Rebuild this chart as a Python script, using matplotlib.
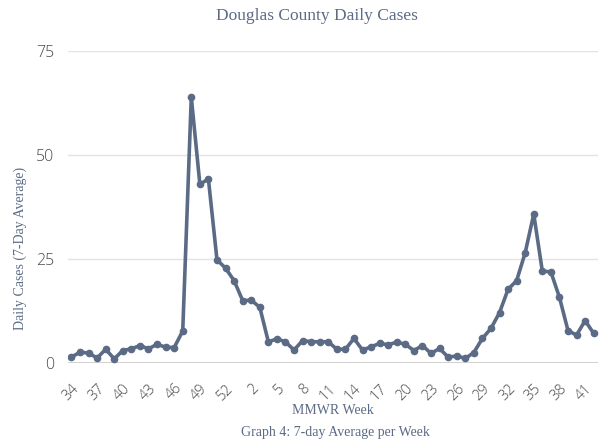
import matplotlib
matplotlib.use("Agg")
import matplotlib.pyplot as plt
import numpy as np

# MMWR weeks: 34-53 of 2020, then 1-42 of 2021
weeks = list(range(34, 54)) + list(range(1, 43))

# 7-day average daily cases
cases = [1.4, 2.6, 2.4, 1.2, 3.3, 1.0, 3.0, 3.4, 4.2, 3.4,
         4.5, 3.8, 3.7, 7.7, 63.9, 43.0, 44.2, 24.8, 22.8, 19.8,
         15.0, 15.1, 13.4, 5.1, 5.8, 5.1, 3.1, 5.4, 5.1, 5.1,
         5.1, 3.3, 3.3, 5.9, 3.1, 3.9, 4.7, 4.4, 5.0, 4.5,
         3.0, 4.2, 2.3, 3.5, 1.4, 1.7, 1.1, 2.5, 5.9, 8.3,
         12.1, 17.7, 19.8, 26.5, 35.8, 22.1, 21.9, 15.8, 7.8, 6.7,
         10.2, 7.1]

yticks = [0, 25, 50, 75]

line_color = "#5b6b86"
text_color = "#5b6b86"
tick_color = "#4a4a4a"

fig = plt.figure(figsize=(6.04, 4.43), dpi=100)
ax = fig.add_axes([0.1126, 0.1806, 0.8774, 0.7043])

x = np.arange(len(weeks))
ax.plot(x, cases, color=line_color, lw=2.6, marker="o", ms=4.5, zorder=3)

ax.set_ylim(0, 75)
ax.set_xlim(-0.4, len(weeks) - 0.5)
ax.set_yticks(yticks)
ax.set_yticklabels([str(v) for v in yticks], family="Open Sans", fontsize=11.5,
                   fontweight="light", color=tick_color)

pos = x[::3]
ax.set_xticks(pos)
ax.set_xticklabels([str(weeks[i]) for i in pos], rotation=45, ha="right",
                   rotation_mode="anchor", family="Open Sans", fontsize=10.5,
                   fontweight="light", color=tick_color)
ax.tick_params(axis="both", length=0)
ax.tick_params(axis="x", pad=13)
ax.tick_params(axis="y", pad=10)

for v in yticks[1:]:
    ax.axhline(v, color="#e3e3e3", lw=1, zorder=1)
ax.axhline(0, color="#c8c8c8", lw=1.2, zorder=2)
for s in ax.spines.values():
    s.set_visible(False)

fig.text(0.525, 0.963, "Douglas County Daily Cases", ha="center", va="center",
         family="Liberation Serif", fontsize=12.5, color=text_color)
fig.text(0.033, 0.44, "Daily Cases (7-Day Average)", ha="center", va="center", rotation=90,
         family="Liberation Serif", fontsize=10, color=text_color)
fig.text(0.551, 0.073, "MMWR Week", ha="center", va="center",
         family="Liberation Serif", fontsize=10, color=text_color)
fig.text(0.555, 0.024, "Graph 4: 7-day Average per Week", ha="center", va="center",
         family="Liberation Serif", fontsize=10, color=text_color)

fig.savefig("out.png", dpi=100)
